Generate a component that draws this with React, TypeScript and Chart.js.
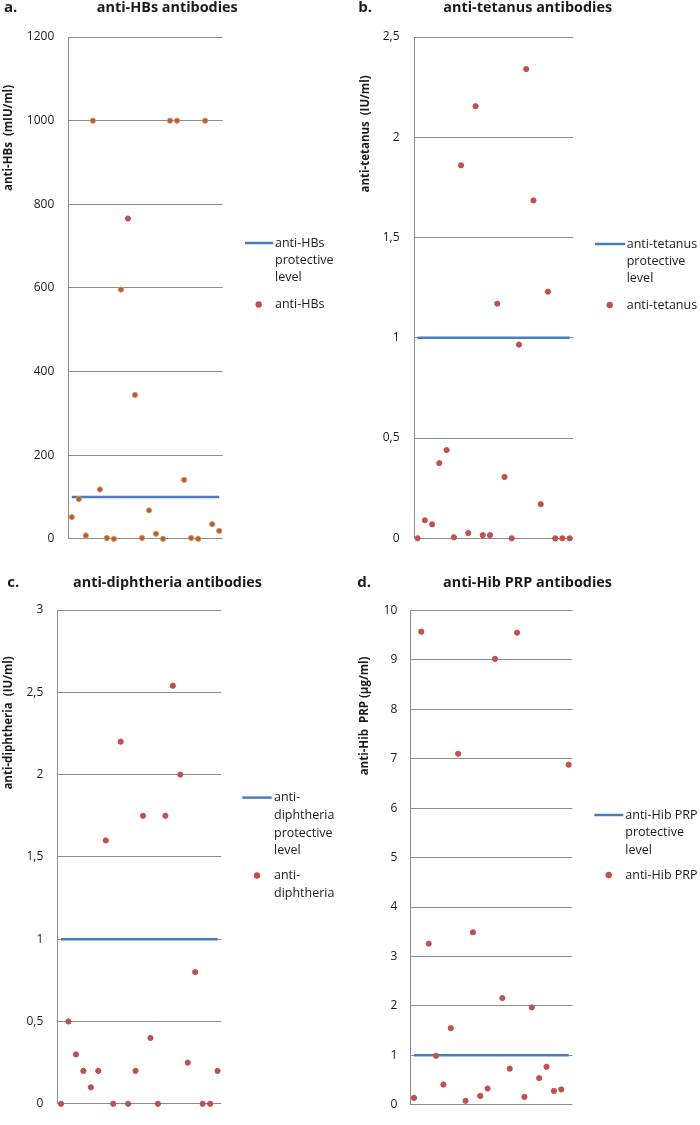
import React, { useEffect, useRef } from "react";
import { Chart, registerables } from "chart.js";

Chart.register(...registerables);

// ---------- DATA ----------
const categories = ["1", "2", "3", "4", "5", "6", "7", "8", "9", "10", "11", "12", "13", "14", "15", "16", "17", "18", "19", "20", "21", "22"];

const hbsValues = [52, 95, 8, 1000, 118, 2, 0, 596, 766, 344, 2, 68, 12, 0, 1000, 1000, 141, 2, 0, 1000, 35, 19];
const hbsProtectiveLevel = 100;
const hbsTicks = { min: 0, max: 1200, step: 200 };

const tetanusValues = [0, 0.09, 0.07, 0.375, 0.44, 0.005, 1.86, 0.026, 2.155, 0.016, 0.016, 1.17, 0.306, 0, 0.966, 2.34, 1.685, 0.17, 1.23, 0, 0, 0];
const tetanusProtectiveLevel = 1;
const tetanusTicks = { min: 0, max: 2.5, step: 0.5 };

const diphtheriaValues = [0, 0.5, 0.3, 0.2, 0.1, 0.2, 1.6, 0, 2.2, 0, 0.2, 1.75, 0.4, 0, 1.75, 2.54, 2.0, 0.25, 0.8, 0, 0, 0.2];
const diphtheriaProtectiveLevel = 1;
const diphtheriaTicks = { min: 0, max: 3, step: 0.5 };

const hibValues = [0.14, 9.57, 3.26, 0.99, 0.41, 1.55, 7.1, 0.08, 3.49, 0.18, 0.33, 9.02, 2.16, 0.73, 9.55, 0.16, 1.97, 0.54, 0.77, 0.28, 0.31, 6.88];
const hibProtectiveLevel = 1;
const hibTicks = { min: 0, max: 10, step: 1 };

// ---------- STYLE ----------
const FONT = "'Open Sans', 'Liberation Sans', sans-serif";
const LINE_BLUE = "#4A7EBB";
const DOT_RED = "#C0504D";
const DOT_GOLD_BORDER = "#C9A13C";
const GRID = "#8C8C8C";
const TEXT = "#1a1a1a";

type PanelSpec = {
  left: number;
  top: number;
  width: number;
  height: number;
  area: { left: number; right: number; top: number; bottom: number };
  tickPad: number;
  values: number[];
  level: number;
  ticks: { min: number; max: number; step: number };
  dotBorder: string[] | string;
  letter: { text: string; x: number; y: number };
  title: { text: string; x: number; y: number };
  yTitle: { text: string; x: number; y: number };
  legendLine: { x1: number; x2: number; y: number; tx: number; lines: string[]; lh: number };
  legendDot: { x: number; y: number; tx: number; lines: string[]; lh: number };
};

const fmt = (v: number) => String(Number(v.toFixed(2))).replace(".", ",");

function makeTextPlugin(spec: PanelSpec) {
  return {
    id: "panelText",
    afterDraw(chart: any) {
      const ctx: CanvasRenderingContext2D = chart.ctx;
      ctx.save();
      ctx.fillStyle = TEXT;
      ctx.textBaseline = "middle";
      // letter
      ctx.font = `bold 15px ${FONT}`;
      ctx.textAlign = "left";
      ctx.fillText(spec.letter.text, spec.letter.x, spec.letter.y);
      // title
      ctx.font = `bold 14.4px ${FONT}`;
      ctx.textAlign = "center";
      ctx.fillText(spec.title.text, spec.title.x, spec.title.y);
      // y title
      ctx.save();
      ctx.translate(spec.yTitle.x, spec.yTitle.y);
      ctx.rotate(-Math.PI / 2);
      ctx.font = `bold 11.5px ${FONT}`;
      ctx.textAlign = "center";
      ctx.fillText(spec.yTitle.text, 0, 0);
      ctx.restore();
      // legend line
      const L = spec.legendLine;
      ctx.strokeStyle = LINE_BLUE;
      ctx.lineWidth = 2.5;
      ctx.beginPath();
      ctx.moveTo(L.x1, L.y);
      ctx.lineTo(L.x2, L.y);
      ctx.stroke();
      ctx.font = `12.5px ${FONT}`;
      ctx.textAlign = "left";
      L.lines.forEach((t, i) => ctx.fillText(t, L.tx, L.y + i * L.lh));
      // legend dot
      const D = spec.legendDot;
      ctx.fillStyle = DOT_RED;
      ctx.beginPath();
      ctx.arc(D.x, D.y, 3.2, 0, Math.PI * 2);
      ctx.fill();
      ctx.fillStyle = TEXT;
      D.lines.forEach((t, i) => ctx.fillText(t, D.tx, D.y + i * D.lh));
      ctx.restore();
    },
  };
}

function Panel({ spec }: { spec: PanelSpec }) {
  const ref = useRef<HTMLCanvasElement | null>(null);
  useEffect(() => {
    if (!ref.current) return;
    const a = spec.area;
    const chart = new Chart(ref.current, {
      type: "line",
      data: {
        labels: categories,
        datasets: [
          {
            label: "points",
            data: spec.values,
            showLine: false,
            pointRadius: 2.6,
            pointBorderWidth: 1,
            pointBackgroundColor: DOT_RED,
            pointBorderColor: spec.dotBorder as any,
            clip: false as any,
            order: 0,
          },
          {
            label: "level",
            data: categories.map(() => spec.level),
            borderColor: LINE_BLUE,
            borderWidth: 2.5,
            pointRadius: 0,
            fill: false,
            tension: 0,
            clip: false as any,
            order: 1,
          },
        ],
      },
      options: {
        responsive: false,
        animation: false,
        events: [],
        layout: {
          autoPadding: false,
          padding: { left: 0, top: a.top, right: spec.width - a.right, bottom: spec.height - a.bottom },
        },
        plugins: { legend: { display: false }, tooltip: { enabled: false }, title: { display: false } },
        scales: {
          x: { type: "category", offset: true, display: false },
          y: {
            min: spec.ticks.min,
            max: spec.ticks.max,
            afterFit: (s: any) => {
              s.width = a.left;
            },
            ticks: {
              stepSize: spec.ticks.step,
              padding: spec.tickPad,
              color: TEXT,
              font: { family: FONT, size: 12 },
              callback: (v: any) => fmt(Number(v)),
            },
            grid: { color: GRID, lineWidth: 1, drawTicks: false },
            border: { color: GRID, width: 1 },
          },
        },
      },
      plugins: [makeTextPlugin(spec)],
    } as any);
    return () => chart.destroy();
  }, [spec]);
  return (
    <canvas
      ref={ref}
      width={spec.width}
      height={spec.height}
      style={{ position: "absolute", left: spec.left, top: spec.top, width: spec.width, height: spec.height }}
    />
  );
}

const hbsBorders = hbsValues.map((_, i) => (i === 8 ? DOT_RED : DOT_GOLD_BORDER));

const panels: PanelSpec[] = [
  {
    left: 0, top: 0, width: 350, height: 560,
    area: { left: 68.3, right: 222.7, top: 37, bottom: 544.5 },
    tickPad: 14,
    values: hbsValues, level: hbsProtectiveLevel, ticks: hbsTicks,
    dotBorder: hbsBorders,
    letter: { text: "a.", x: 4, y: 8 },
    title: { text: "anti-HBs antibodies", x: 167.3, y: 8 },
    yTitle: { text: "anti-HBs  (mIU/ml)", x: 8.5, y: 138 },
    legendLine: { x1: 245, x2: 273.3, y: 243, tx: 275, lines: ["anti-HBs", "protective", "level"], lh: 17.3 },
    legendDot: { x: 258.7, y: 304.5, tx: 275, lines: ["anti-HBs"], lh: 17.3 },
  },
  {
    left: 350, top: 0, width: 350, height: 560,
    area: { left: 64, right: 223.3, top: 37, bottom: 544.5 },
    tickPad: 14.5,
    values: tetanusValues, level: tetanusProtectiveLevel, ticks: tetanusTicks,
    dotBorder: DOT_RED,
    letter: { text: "b.", x: 8.3, y: 8 },
    title: { text: "anti-tetanus antibodies", x: 177.7, y: 8 },
    yTitle: { text: "anti-tetanus  (IU/ml)", x: 16, y: 134 },
    legendLine: { x1: 245, x2: 275.3, y: 244, tx: 276.7, lines: ["anti-tetanus", "protective", "level"], lh: 17.2 },
    legendDot: { x: 259.7, y: 305, tx: 276.7, lines: ["anti-tetanus"], lh: 17.2 },
  },
  {
    left: 0, top: 560, width: 350, height: 565,
    area: { left: 57.3, right: 221.3, top: 50, bottom: 556.5 },
    tickPad: 14,
    values: diphtheriaValues, level: diphtheriaProtectiveLevel, ticks: diphtheriaTicks,
    dotBorder: DOT_RED,
    letter: { text: "c.", x: 7.3, y: 23 },
    title: { text: "anti-diphtheria antibodies", x: 167.5, y: 23 },
    yTitle: { text: "anti-diphtheria  (IU/ml)", x: 8.5, y: 163 },
    legendLine: { x1: 242.3, x2: 271.7, y: 237.6, tx: 274, lines: ["anti-", "diphtheria", "protective", "level"], lh: 17.7 },
    legendDot: { x: 257, y: 315.5, tx: 274, lines: ["anti-", "diphtheria"], lh: 17.7 },
  },
  {
    left: 350, top: 560, width: 350, height: 565,
    area: { left: 60.3, right: 222.3, top: 50.4, bottom: 556 },
    tickPad: 13,
    values: hibValues, level: hibProtectiveLevel, ticks: hibTicks,
    dotBorder: DOT_RED,
    letter: { text: "d.", x: 7.3, y: 23 },
    title: { text: "anti-Hib PRP antibodies", x: 177.5, y: 23 },
    yTitle: { text: "anti-Hib  PRP (µg/ml)", x: 15, y: 156 },
    legendLine: { x1: 244.3, x2: 273.3, y: 255, tx: 275.3, lines: ["anti-Hib PRP", "protective", "level"], lh: 17.5 },
    legendDot: { x: 258.7, y: 315, tx: 275.3, lines: ["anti-Hib PRP"], lh: 17.5 },
  },
];

export default function App() {
  return (
    <div style={{ position: "absolute", left: 0, top: 0, width: 700, height: 1125, background: "#fff" }}>
      {panels.map((p, i) => (
        <Panel key={i} spec={p} />
      ))}
    </div>
  );
}
